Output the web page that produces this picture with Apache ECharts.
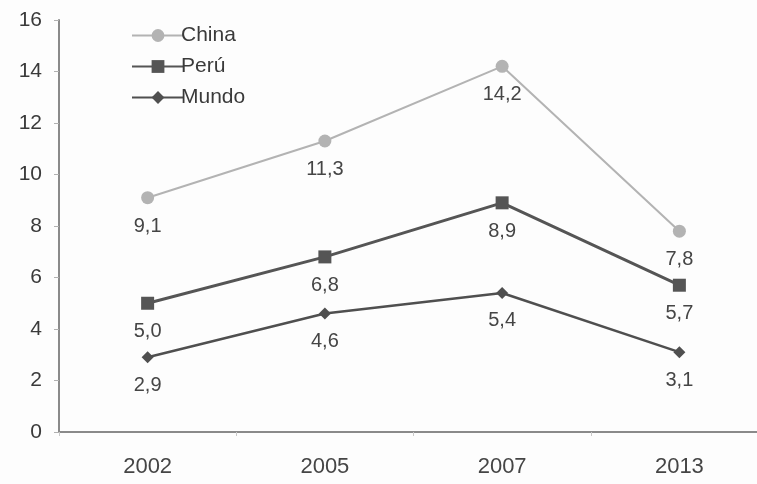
<!DOCTYPE html>
<html>
<head>
<meta charset="utf-8">
<script src="https://cdn.jsdelivr.net/npm/echarts@6/dist/echarts.min.js"></script>
<style>
  html, body { margin: 0; padding: 0; background: #fdfdfd; overflow: hidden; }
  /* the x axis runs past the right edge of the window */
  #chart { width: 770px; height: 484px; }
</style>
</head>
<body>
<div id="chart"></div>
<script>
// Years on the category axis
var years = ['2002', '2005', '2007', '2013'];
// Series values
var china = [9.1, 11.3, 14.2, 7.8];
var peru = [5.0, 6.8, 8.9, 5.7];
var mundo = [2.9, 4.6, 5.4, 3.1];
// Value axis ticks
var yMin = 0, yMax = 16, yStep = 2;

var FONT = '"Liberation Sans", Arial, sans-serif';
var labelColor = '#454545';

function fmt(v) { return v.toFixed(1).replace('.', ','); }

function lineSeries(name, data, color, symbol, size, width) {
  return {
    name: name,
    type: 'line',
    data: data,
    symbol: symbol,
    symbolSize: size,
    showAllSymbol: true,
    itemStyle: { color: color },
    lineStyle: { color: color, width: width },
    label: {
      show: true,
      position: 'bottom',
      distance: 12,
      color: labelColor,
      fontFamily: FONT,
      fontSize: 20,
      formatter: function (p) { return fmt(p.value); }
    },
    emphasis: { disabled: true },
    animation: false
  };
}

var chart = echarts.init(document.getElementById('chart'), null, { renderer: 'canvas' });
chart.setOption({
  backgroundColor: '#fdfdfd',
  animation: false,
  grid: { left: 59, top: 20, right: 2, bottom: 52, containLabel: false },
  legend: {
    orient: 'vertical',
    left: 126,
    top: 20,
    itemWidth: 52,
    itemHeight: 16,
    itemGap: 10,
    textStyle: { color: '#3a3a3a', fontFamily: FONT, fontSize: 21, padding: [0, 0, 0, -8] },
    data: ['China', 'Perú', 'Mundo']
  },
  xAxis: {
    type: 'category',
    data: years,
    boundaryGap: true,
    axisLine: { lineStyle: { color: '#8a8a8a', width: 2 } },
    axisTick: { show: true, length: 4, lineStyle: { color: '#c8c8c8', width: 1 } },
    axisLabel: { color: '#454545', fontFamily: FONT, fontSize: 22, margin: 24 },
    splitLine: { show: false }
  },
  yAxis: {
    type: 'value',
    min: yMin,
    max: yMax,
    interval: yStep,
    axisLine: { show: true, lineStyle: { color: '#8a8a8a', width: 2 } },
    axisTick: { show: true, length: 5, lineStyle: { color: '#b0b0b0', width: 1 } },
    axisLabel: { color: '#3a3a3a', fontFamily: FONT, fontSize: 21, margin: 17 },
    splitLine: { show: false }
  },
  series: [
    lineSeries('China', china, '#b3b3b3', 'circle', 13, 2),
    lineSeries('Perú', peru, '#555555', 'rect', 13, 3),
    lineSeries('Mundo', mundo, '#4f4f4f', 'diamond', 12, 2.5)
  ]
});
</script>
</body>
</html>
